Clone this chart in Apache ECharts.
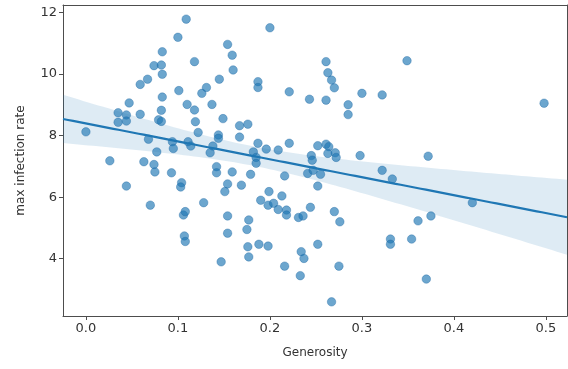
<!DOCTYPE html>
<html>
<head>
<meta charset="utf-8">
<script src="https://cdn.jsdelivr.net/npm/echarts@6/dist/echarts.min.js"></script>
<style>
  html, body { margin: 0; padding: 0; background: #fff; }
  #chart { width: 568px; height: 369px; }
</style>
</head>
<body>
<div id="chart"></div>
<script>
// Generosity score per country
const generosity = [
  0.000, 0.026, 0.035, 0.044, 0.035, 0.044, 0.047, 0.044, 0.059, 0.067,
  0.059, 0.063, 0.068, 0.070, 0.074, 0.082, 0.083, 0.083, 0.083, 0.082,
  0.079, 0.082, 0.074, 0.075, 0.077, 0.093, 0.094, 0.095, 0.100, 0.101,
  0.104, 0.103, 0.106, 0.108, 0.107, 0.108, 0.109, 0.110, 0.111, 0.114,
  0.118, 0.118, 0.119, 0.122, 0.126, 0.131, 0.128, 0.137, 0.138, 0.135,
  0.142, 0.142, 0.144, 0.144, 0.145, 0.147, 0.149, 0.154, 0.159, 0.160,
  0.159, 0.154, 0.151, 0.154, 0.154, 0.167, 0.176, 0.167, 0.169, 0.179,
  0.177, 0.175, 0.176, 0.177, 0.187, 0.187, 0.187, 0.196, 0.182, 0.185,
  0.185, 0.190, 0.188, 0.198, 0.200, 0.199, 0.198, 0.204, 0.209, 0.209,
  0.213, 0.216, 0.218, 0.218, 0.216, 0.221, 0.221, 0.231, 0.236, 0.234,
  0.237, 0.233, 0.241, 0.243, 0.244, 0.245, 0.246, 0.247, 0.255, 0.252,
  0.252, 0.252, 0.261, 0.263, 0.267, 0.270, 0.261, 0.261, 0.264, 0.263,
  0.271, 0.272, 0.267, 0.270, 0.276, 0.275, 0.285, 0.285, 0.298, 0.300,
  0.322, 0.322, 0.333, 0.331, 0.331, 0.349, 0.354, 0.361, 0.375, 0.370,
  0.372, 0.420, 0.498
];

// Maximum infection rate per country
const maxInfectionRate = [
  8.12, 7.18, 8.74, 8.67, 8.43, 8.47, 9.06, 6.36, 9.66, 9.83,
  8.69, 7.15, 7.88, 5.74, 10.27, 10.29, 9.99, 10.72, 9.25, 8.82,
  8.51, 8.46, 7.06, 6.82, 7.47, 6.79, 7.80, 7.58, 11.19, 9.46,
  6.47, 6.33, 5.42, 5.53, 4.74, 4.56, 11.78, 9.01, 7.80, 7.66,
  10.40, 8.83, 8.45, 8.10, 9.37, 9.56, 5.82, 9.01, 7.66, 7.44,
  6.99, 6.79, 8.02, 7.91, 9.83, 3.90, 8.55, 10.96, 10.61, 10.13,
  6.82, 6.43, 6.18, 5.39, 4.83, 8.32, 8.37, 7.95, 6.39, 6.74,
  5.26, 4.95, 4.39, 4.06, 9.75, 9.56, 7.75, 7.56, 7.47, 7.29,
  7.10, 5.90, 4.47, 4.41, 11.50, 6.18, 5.74, 5.80, 5.60, 7.53,
  6.04, 6.69, 5.58, 5.42, 3.76, 9.42, 7.75, 5.34, 5.39, 4.23,
  4.01, 3.45, 6.77, 9.18, 5.67, 7.35, 7.20, 6.87, 6.74, 6.36,
  4.47, 7.67, 10.40, 10.04, 9.80, 9.55, 9.15, 7.72, 7.64, 7.42,
  7.44, 7.29, 2.60, 5.53, 5.20, 3.76, 9.00, 8.68, 7.35, 9.37,
  9.32, 6.87, 6.59, 4.64, 4.47, 10.43, 4.64, 5.23, 5.39, 3.34,
  7.33, 5.82, 9.05
];

const xTicks = [0.0, 0.1, 0.2, 0.3, 0.4, 0.5];
const yTicks = [4, 6, 8, 10, 12];

const xLabel = 'Generosity';
const yLabel = 'max infection rate';

// Axis limits with 5% padding around the data
function paddedRange(arr) {
  const lo = Math.min(...arr), hi = Math.max(...arr);
  const pad = (hi - lo) * 0.05;
  return [lo - pad, hi + pad];
}
const [xMin, xMax] = paddedRange(generosity);
const [yMin, yMax] = paddedRange(maxInfectionRate);

// Ordinary least squares fit with a 95% confidence band for the mean
const n = generosity.length;
const xMean = generosity.reduce((a, b) => a + b, 0) / n;
const yMean = maxInfectionRate.reduce((a, b) => a + b, 0) / n;
let sxx = 0, sxy = 0;
for (let i = 0; i < n; i++) {
  sxx += (generosity[i] - xMean) ** 2;
  sxy += (generosity[i] - xMean) * (maxInfectionRate[i] - yMean);
}
const slope = sxy / sxx;
const intercept = yMean - slope * xMean;
let sse = 0;
for (let i = 0; i < n; i++) {
  sse += (maxInfectionRate[i] - (intercept + slope * generosity[i])) ** 2;
}
const sResid = Math.sqrt(sse / (n - 2));
const tCrit = 1.977;

const gridX = [];
const steps = 100;
for (let k = 0; k <= steps; k++) gridX.push(xMin + (xMax - xMin) * k / steps);
const fitLine = gridX.map(x => [x, intercept + slope * x]);
const halfWidth = x => tCrit * sResid * Math.sqrt(1 / n + (x - xMean) ** 2 / sxx);
const bandUpper = gridX.map(x => [x, intercept + slope * x + halfWidth(x)]);
const bandLower = gridX.map(x => [x, intercept + slope * x - halfWidth(x)]);

const points = generosity.map((g, i) => [g, maxInfectionRate[i]]);
const blue = '#1f77b4';
const axisColor = '#4d4d4d';
const textColor = '#333';
const font = 'DejaVu Sans';

// plain frame axes for the top and right edges of the plot box
const frameAxis = {
  type: 'value',
  axisLine: { show: true, onZero: false, lineStyle: { color: axisColor, width: 1 } },
  axisTick: { show: false },
  axisLabel: { show: false },
  splitLine: { show: false }
};

const chart = echarts.init(document.getElementById('chart'), null, { renderer: 'canvas' });
chart.setOption({
  animation: false,
  backgroundColor: '#fff',
  grid: { left: 63, right: 1, top: 5, bottom: 53 },
  xAxis: [
    {
      type: 'value', min: xMin, max: xMax,
      name: xLabel, nameLocation: 'middle', nameGap: 31,
      nameTextStyle: { color: textColor, fontFamily: font, fontSize: 12 },
      axisLine: { show: true, onZero: false, lineStyle: { color: axisColor, width: 1 } },
      axisTick: { show: true, length: 4, lineStyle: { color: axisColor }, customValues: xTicks },
      axisLabel: {
        color: textColor, fontFamily: font, fontSize: 13, margin: 6,
        customValues: xTicks, formatter: v => v.toFixed(1)
      },
      splitLine: { show: false }
    },
    Object.assign({ position: 'top', min: xMin, max: xMax }, frameAxis)
  ],
  yAxis: [
    {
      type: 'value', min: yMin, max: yMax,
      name: yLabel, nameLocation: 'middle', nameGap: 36, nameRotate: 90,
      nameTextStyle: { color: textColor, fontFamily: font, fontSize: 12 },
      axisLine: { show: true, onZero: false, lineStyle: { color: axisColor, width: 1 } },
      axisTick: { show: true, length: 4, lineStyle: { color: axisColor }, customValues: yTicks },
      axisLabel: {
        color: textColor, fontFamily: font, fontSize: 13, margin: 6,
        customValues: yTicks, formatter: v => String(v)
      },
      splitLine: { show: false }
    },
    Object.assign({ position: 'right', min: yMin, max: yMax }, frameAxis)
  ],
  series: [
    {
      // confidence band as a filled polygon
      type: 'custom',
      silent: true,
      z: 1,
      data: [0],
      renderItem: (params, api) => {
        const pts = bandUpper.map(p => api.coord(p))
          .concat(bandLower.slice().reverse().map(p => api.coord(p)));
        return {
          type: 'polygon',
          shape: { points: pts },
          style: { fill: 'rgba(31,119,180,0.15)', stroke: null }
        };
      },
      clip: true
    },
    {
      type: 'scatter',
      data: points,
      symbolSize: 8.5,
      z: 2,
      itemStyle: { color: 'rgba(31,119,180,0.82)', borderColor: 'rgba(25,100,160,0.9)', borderWidth: 0.5 }
    },
    {
      type: 'line',
      data: fitLine,
      showSymbol: false,
      z: 3,
      lineStyle: { color: blue, width: 2.2 },
      clip: true
    }
  ]
});
</script>
</body>
</html>
